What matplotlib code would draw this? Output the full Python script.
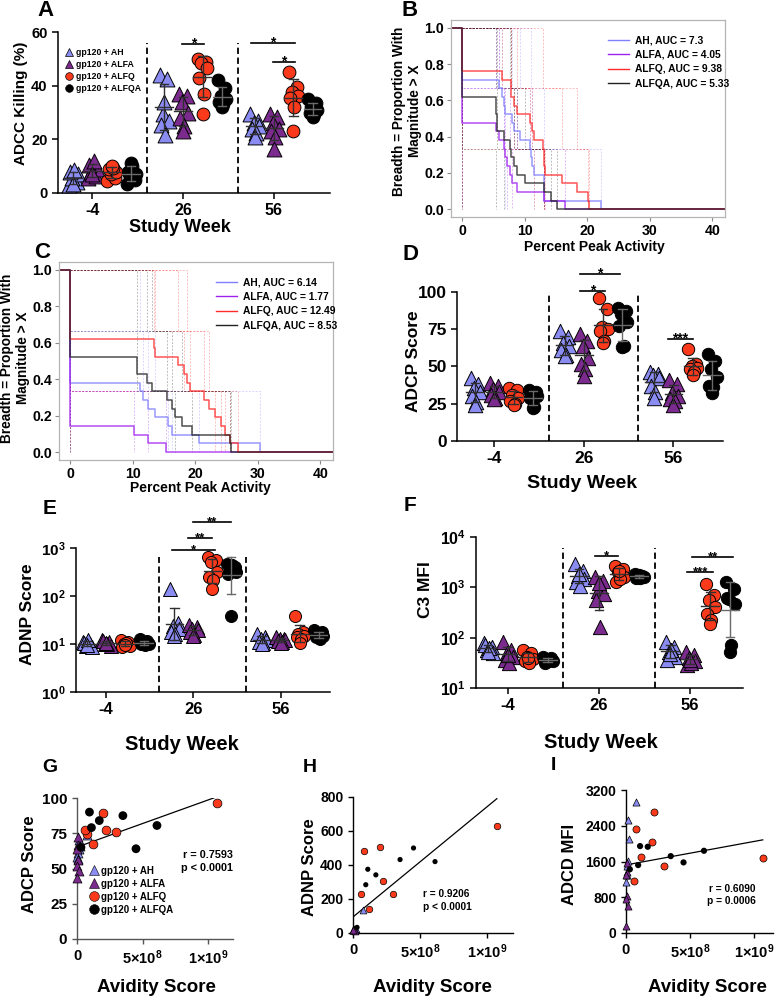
import numpy as np
import matplotlib
matplotlib.use('Agg')
import matplotlib.pyplot as plt
from matplotlib.lines import Line2D
from matplotlib.ticker import NullLocator

plt.rcParams['font.family'] = ['Liberation Sans', 'DejaVu Sans']
plt.rcParams['font.weight'] = 'bold'
plt.rcParams['mathtext.fontset'] = 'custom'
plt.rcParams['mathtext.rm'] = 'Liberation Sans:bold'
plt.rcParams['mathtext.bf'] = 'Liberation Sans:bold'
plt.rcParams['mathtext.it'] = 'Liberation Sans:bold'
plt.rcParams['axes.linewidth'] = 1.1

W, H = 782, 999

GROUPS = ['gp120 + AH', 'gp120 + ALFA', 'gp120 + ALFQ', 'gp120 + ALFQA']
SHORT = ['AH', 'ALFA', 'ALFQ', 'ALFQA']
WEEKS = ['-4', '26', '56']
COLORS = ['#8a8cf2', '#7b2b8e', '#fb3a1c', '#000000']
MARKERS = ['^', '^', 'o', 'o']
LINE_COLORS = ['#7f7fff', '#a020f0', '#ff2a2a', '#222222']

# --- A: ADCC killing (%), per group -> weeks -4, 26, 56
adcc_ah = [[3, 4, 5.5, 7, 8, 8.5, 3.5], [44, 42.5, 29.5, 27, 25.5, 21.5, 34], [29.5, 27, 26, 25, 24, 22.5, 21]]
adcc_alfa = [[5.5, 6.5, 8, 9, 10.5, 12, 7], [37, 36, 34, 30, 28, 25, 23], [29.5, 28.5, 26, 24, 23, 21, 16.5]]
adcc_alfq = [[4.5, 5.5, 7, 8, 9, 9.5, 10], [50, 49, 48.5, 46.5, 43, 37, 29.5], [45, 39.5, 37.5, 36, 35.5, 32, 23]]
adcc_alfqa = [[3.5, 5, 6, 7, 8, 10, 11], [42, 39, 36, 35, 34, 33, 32], [35, 33.5, 32, 31, 30, 29.5, 28.5]]
adcc_sig = [(5.65, 6.8, 55.5, '*'), (9.2, 11.5, 56, '*'), (10.35, 11.5, 49, '*')]

# --- D: ADCP score
adcp_ah = [[42, 38.5, 35.5, 33, 30, 26, 24], [74, 70, 66, 64, 61, 58, 57], [46, 45, 44, 42, 37, 33, 29]]
adcp_alfa = [[39, 37, 35, 33, 31, 29, 28], [72, 67, 63.5, 56, 52, 48, 43.5], [41, 38, 32, 30, 28, 27, 24]]
adcp_alfq = [[35.5, 34, 31, 29, 27, 25, 24], [96, 88.5, 76.5, 75, 74, 67, 66], [62, 52, 50, 49, 48, 46, 44]]
adcp_alfqa = [[34, 33, 31, 30, 29, 23, 22], [89, 87, 85, 80, 77, 64, 63], [58.5, 54, 48, 43, 37, 36, 32]]
adcp_sig = [(5.44, 6.74, 101, '*'), (5.44, 7.51, 112, '*'), (10.0, 11.3, 68.5, '***')]

# --- E: ADNP score
adnp_ah = [[11, 10, 9, 8.5, 10.5, 12, 9.5], [140, 27, 24, 21, 18, 16, 15], [16, 14, 13, 12, 11, 10.5, 10]]
adnp_alfa = [[12, 11, 10, 9, 11.5, 10, 10.5], [25, 23, 21, 20, 18, 15.5, 14.5], [14, 13, 12.5, 12, 11.5, 11, 10.5]]
adnp_alfq = [[12, 11, 10, 9, 8.5, 10.5, 9.5], [650, 550, 510, 318, 243, 213, 143], [38, 18, 16.5, 15, 14, 12.5, 10.5]]
adnp_alfqa = [[12.5, 11.5, 11, 10, 10, 9.5, 10.5], [473, 400, 372, 318, 293, 436, 38], [19.5, 18, 17, 15, 14, 13, 13.5]]
adnp_sig = [(4.47, 6.74, 922, '*'), (5.3, 6.6, 1620, '**'), (5.57, 7.6, 3460, '**')]

# --- F: C3 MFI
c3_ah = [[77, 66, 57, 49, 71, 61, 53], [2900, 2140, 1700, 1470, 1260, 1085, 1850], [83, 66, 53, 42, 36, 57, 48]]
c3_alfa = [[83, 57, 49, 42, 36, 31, 45], [1580, 1350, 865, 740, 550, 164, 1200], [53, 45, 39, 34, 29, 31, 36]]
c3_alfq = [[57, 49, 42, 37, 34, 31, 39], [2700, 2300, 1990, 1580, 1260, 1470, 2150], [1170, 690, 550, 410, 300, 229, 185]]
c3_alfqa = [[42, 39, 36, 34, 31, 37, 35], [1800, 1700, 1650, 1600, 1550, 1500, 1750], [1260, 940, 590, 470, 610, 71, 53]]
c3_sig = [(5.35, 6.55, 4230, '*'), (10.0, 11.3, 2040, '***'), (10.25, 12.3, 4000, '**')]

# --- B / C: percent peak activity per animal (3 antigens each)
b_ah = [[11.0, 13.0, 22.2], [9.3, 11.2, 13.0], [7.9, 10.9, 13.0], [6.3, 8.2, 11.4], [5.8, 6.6, 6.9], [0, 0, 0], [0, 0, 0]]
b_alfa = [[0, 8.7, 16.5], [0, 7.7, 13.0], [5.4, 6.9, 8.0], [5.8, 6.6, 7.1], [0, 0, 0], [0, 0, 0], [0, 0, 0]]
b_alfq = [[12.9, 18.4, 20.3], [8.7, 16.0, 20.1], [7.8, 11.2, 13.2], [6.3, 10.9, 13.1], [7.8, 8.2, 13.0], [0, 0, 11.5], [0, 0, 0]]
b_alfqa = [[7.83, 10.1, 15.2], [7.67, 8.74, 14.2], [5.5, 8.2, 13.0], [5.36, 5.5, 6.6], [0, 0, 5.36], [0, 0, 0], [0, 0, 0]]
b_auc = ['7.3', '4.05', '9.38', '5.33']

c_ah = [[0, 0, 30.3], [0, 13.6, 20.5], [11.2, 12.5, 16.2], [0, 11.6, 15.6], [0, 0, 0], [0, 0, 0], [0, 0, 0]]
c_alfa = [[0, 0, 15.3], [0, 0, 12.5], [0, 0, 10.2], [0, 0, 0], [0, 0, 0], [0, 0, 0], [0, 0, 0]]
c_alfq = [[18.6, 21.3, 26.8], [17.3, 19.2, 25.6], [13.4, 22.2, 24.7], [13.6, 18.2, 24.1], [0, 0, 23.2], [0, 0, 0], [0, 0, 0]]
c_alfqa = [[10.6, 16.2, 25.7], [12.2, 15.4, 25.6], [13.0, 17.8, 19.5], [0, 10.7, 16.8], [0, 0, 0], [0, 0, 0], [0, 0, 0]]
c_auc = ['6.14', '1.77', '12.49', '8.53']

# --- G / H / I: avidity vs week-26 function
avid_ah = [7.8e7, 1.8e7, 2.6e7, 1.3e7, 8e6, 2e6, 1e7]
avid_alfa = [5e6, 1e7, 3e6, 8e6, 2e6, 1.2e7, 0]
avid_alfq = [1.07e9, 2.2e8, 2.0e8, 3.0e8, 1.2e8, 8e7, 6e7]
avid_alfqa = [6.1e8, 4.5e8, 3.5e8, 1.7e8, 1.1e8, 9.5e7, 3e7]

g_ah = [74, 70, 66, 64, 61, 58, 57]
g_alfa = [72, 67, 63.5, 56, 52, 48, 43.5]
g_alfq = [96.8, 77, 89.4, 75.7, 67.3, 74.5, 77.6]
g_alfqa = [80.5, 64, 87.5, 84, 79, 90, 65]

h_ah = [135, 25, 22, 19, 17, 15, 16]
h_alfa = [25, 21, 18, 16, 15, 14, 20]
h_alfq = [628, 308, 508, 227, 140, 480, 227]
h_alfqa = [420, 500, 432, 342, 375, 284, 33]

i_ah = [2940, 2530, 2100, 1610, 1300, 1140, 1500]
i_alfa = [1560, 1370, 1300, 820, 770, 610, 165]
i_alfq = [1674, 2716, 2030, 1500, 1700, 2320, 1173]
i_alfqa = [1840, 1580, 1720, 1930, 1945, 1520, 1425]

JIT = np.array([-0.22, 0.18, -0.06, 0.24, -0.16, 0.06, 0.0])

fig = plt.figure(figsize=(W / 100, H / 100), dpi=100)


def add_ax(l, t, r, b):
    return fig.add_axes([l / W, 1 - b / H, (r - l) / W, (b - t) / H])


def ftext(x, y, s, size, rot=0, **kw):
    fig.text(x / W, 1 - y / H, s, fontsize=size, rotation=rot, ha='center',
             va='center', fontweight='bold', **kw)


def clean(ax, lw=1.1):
    for s in ('top', 'right'):
        ax.spines[s].set_visible(False)
    for s in ('left', 'bottom'):
        ax.spines[s].set_linewidth(lw)


def dot_panel(ax, series, gap, log=False, ms=85, dash_top=1.0):
    for k, data in enumerate(series):
        size = ms * 1.35 if MARKERS[k] == '^' else ms
        for g, vals in enumerate(data):
            v = np.asarray(vals, float)
            x0 = g * gap + k
            ax.scatter(x0 + JIT[:len(v)], v, s=size, marker=MARKERS[k], c=COLORS[k],
                       edgecolors='black', linewidths=0.7, zorder=3, clip_on=False)
            if log:
                lv = np.log10(v)
                m, sd = lv.mean(), lv.std(ddof=1)
                mid, lo, hi = 10 ** m, 10 ** (m - sd), 10 ** (m + sd)
            else:
                mid, sd = v.mean(), v.std(ddof=1)
                lo, hi = mid - sd, mid + sd
            ec = '#6a6a6a' if k == 3 else '#303030'
            ax.plot([x0 - 0.45, x0 + 0.45], [mid, mid], color=ec, lw=1.0, zorder=4)
            ax.plot([x0, x0], [lo, hi], color=ec, lw=1.0, zorder=4)
            for yy in (lo, hi):
                ax.plot([x0 - 0.22, x0 + 0.22], [yy, yy], color=ec, lw=1.0, zorder=4)
    for g in range(2):
        ax.axvline(g * gap + (3 + gap) / 2, ymin=0, ymax=dash_top, color='black',
                   ls=(0, (3.5, 2)), lw=1.3, zorder=1)
    ax.set_xticks([g * gap + 1 for g in range(3)])
    ax.set_xticklabels(WEEKS)
    if log:
        ax.set_yscale('log')
        ax.yaxis.set_minor_locator(NullLocator())
    clean(ax)
    ax.tick_params(direction='out', length=4, width=1.1)


def sig(ax, brackets, fs=10):
    for x1, x2, y, txt in brackets:
        ax.plot([x1, x2], [y, y], color='black', lw=1.2, clip_on=False)
        ax.annotate(txt, ((x1 + x2) / 2, y), xytext=(0, -2.5), textcoords='offset points',
                    ha='center', va='baseline', fontsize=fs, fontweight='bold',
                    annotation_clip=False)


def breadth_panel(ax, groups, aucs):
    for k, animals in enumerate(groups):
        c = LINE_COLORS[k]
        for a in sorted(set(tuple(sorted(a)) for a in animals)):
            av = np.asarray(a, float)
            ys = [1.0] + [np.mean(av > v) for v in av]
            ax.plot(np.r_[0, av], ys, drawstyle='steps-post', color=c, lw=0.7,
                    ls=(0, (2, 1.5)), alpha=0.3, zorder=1)
        allv = np.sort(np.concatenate([np.asarray(a, float) for a in animals]))
        ys = np.r_[1.0, [np.mean(allv > v) for v in allv], 0.0]
        ax.plot(np.r_[-1.8, allv, 42.5], ys, drawstyle='steps-post', color=c, lw=1.1,
                alpha=0.8, zorder=2)
    handles = [Line2D([], [], color=LINE_COLORS[k], lw=1.0) for k in range(4)]
    labels = [f'{SHORT[k]}, AUC = {aucs[k]}' for k in range(4)]
    ax.legend(handles, labels, loc='upper left', bbox_to_anchor=(0.54, 0.97), frameon=False,
              fontsize=7.4, handlelength=2.0, handletextpad=0.6, labelspacing=0.45)
    ax.set_xlim(-1.8, 42)
    ax.set_ylim(-0.043, 1.043)
    ax.set_xticks([0, 10, 20, 30, 40])
    ax.set_yticks([0, 0.2, 0.4, 0.6, 0.8, 1.0])
    ax.set_yticklabels(['0.0', '0.2', '0.4', '0.6', '0.8', '1.0'])
    for s in ax.spines.values():
        s.set_color('#b5b5b5')
        s.set_linewidth(0.9)
    ax.tick_params(colors='#8a8a8a', labelcolor='black', length=3, width=0.8, labelsize=10.2,
                   pad=2)


def corr_panel(ax, ys, sizes, ylim, yticks, axis_color='black'):
    avid = [avid_ah, avid_alfa, avid_alfq, avid_alfqa]
    allx, ally = [], []
    for k in range(4):
        x = np.asarray(avid[k], float)
        y = np.asarray(ys[k], float)
        ax.scatter(x, y, s=sizes[k], marker=MARKERS[k], c=COLORS[k],
                   edgecolors='black' if k < 3 else 'none', linewidths=0.5,
                   zorder=3, clip_on=False)
        allx.append(x)
        ally.append(y)
    allx, ally = np.concatenate(allx), np.concatenate(ally)
    slope, icpt = np.polyfit(allx, ally, 1)
    xx = np.array([0, allx.max()])
    ax.plot(xx, icpt + slope * xx, color='black', lw=0.9, zorder=2)
    ax.set_xlim(0, 1.19e9)
    ax.set_ylim(*ylim)
    ax.set_yticks(yticks)
    ax.set_xticks([0, 5e8, 1e9])
    ax.set_xticklabels(['0', r'5×10$^{8}$', r'1×10$^{9}$'])
    clean(ax, 1.0)
    for s in ('left', 'bottom'):
        ax.spines[s].set_color(axis_color)
    ax.tick_params(direction='out', length=3.5, width=1.0, color=axis_color, labelsize=10.5)


# ---------- A ----------
axA = add_ax(58, 32, 330, 193)
dot_panel(axA, [adcc_ah, adcc_alfa, adcc_alfq, adcc_alfqa], 4.7, ms=85, dash_top=0.93)
axA.set_xlim(-0.78, 13.3)
axA.set_ylim(0, 60)
axA.set_yticks([0, 20, 40, 60])
axA.tick_params(axis='y', labelsize=10.5)
axA.tick_params(axis='x', labelsize=11.5)
sig(axA, adcc_sig, fs=10)
leg_h = [Line2D([], [], ls='none', marker=MARKERS[k], markersize=5.5, markerfacecolor=COLORS[k],
                markeredgecolor='black', markeredgewidth=0.5) for k in range(4)]
axA.legend(leg_h, GROUPS, loc='upper left', bbox_to_anchor=(0.0, 0.94), frameon=False,
           fontsize=6.3, handletextpad=0.2, labelspacing=0.35, borderpad=0.2, handlelength=1.2)
ftext(21, 103, 'ADCC Killing (%)', 11, rot=90)
ftext(180, 228, 'Study Week', 13)

# ---------- B ----------
axB = add_ax(451, 20, 725, 217)
breadth_panel(axB, [b_ah, b_alfa, b_alfq, b_alfqa], b_auc)
ftext(407, 111, 'Breadth = Proportion With\nMagnitude > X', 9.8, rot=90, linespacing=1.15)
ftext(594, 247, 'Percent Peak Activity', 10)

# ---------- C ----------
axC = add_ax(59, 262, 333, 460)
breadth_panel(axC, [c_ah, c_alfa, c_alfq, c_alfqa], c_auc)
ftext(15, 358, 'Breadth = Proportion With\nMagnitude > X', 9.8, rot=90, linespacing=1.15)
ftext(200, 488, 'Percent Peak Activity', 10)

# ---------- D ----------
axD = add_ax(457, 292, 723, 441)
dot_panel(axD, [adcp_ah, adcp_alfa, adcp_alfq, adcp_alfqa], 4.64, ms=80, dash_top=1.0)
axD.set_xlim(-0.93, 12.85)
axD.set_ylim(0, 100)
axD.set_yticks([0, 25, 50, 75, 100])
axD.tick_params(axis='y', labelsize=12.5)
axD.tick_params(axis='x', labelsize=12.5)
sig(axD, adcp_sig, fs=10)
ftext(414, 361, 'ADCP Score', 12.5, rot=90)
ftext(582, 483, 'Study Week', 14)

# ---------- E ----------
axE = add_ax(76, 548, 330, 692)
dot_panel(axE, [adnp_ah, adnp_alfa, adnp_alfq, adnp_alfqa], 4.6, log=True, ms=75, dash_top=0.94)
axE.set_xlim(-0.58, 12.8)
axE.set_ylim(1, 1000)
axE.set_yticks([1, 10, 100, 1000])
axE.set_yticklabels([r'10$^{0}$', r'10$^{1}$', r'10$^{2}$', r'10$^{3}$'])
axE.tick_params(axis='y', labelsize=11)
axE.tick_params(axis='x', labelsize=12)
sig(axE, adnp_sig, fs=9.5)
ftext(28, 614, 'ADNP Score', 12.5, rot=90)
ftext(182, 745, 'Study Week', 14.5)

# ---------- F ----------
axF = add_ax(476, 537, 743, 688)
dot_panel(axF, [c3_ah, c3_alfa, c3_alfq, c3_alfqa], 4.575, log=True, ms=78, dash_top=0.93)
axF.set_xlim(-0.6, 12.8)
axF.set_ylim(10, 1e4)
axF.set_yticks([10, 100, 1000, 10000])
axF.set_yticklabels([r'10$^{1}$', r'10$^{2}$', r'10$^{3}$', r'10$^{4}$'])
axF.tick_params(axis='y', labelsize=11.5)
axF.tick_params(axis='x', labelsize=12)
sig(axF, c3_sig, fs=9.5)
ftext(425, 590, 'C3 MFI', 12.5, rot=90)
ftext(601, 743, 'Study Week', 14.5)

# ---------- G ----------
axG = add_ax(77, 798, 233, 939)
corr_panel(axG, [g_ah, g_alfa, g_alfq, g_alfqa], [42, 42, 40, 40], (0, 100),
           [0, 25, 50, 75, 100], axis_color='#555555')
axG.tick_params(axis='y', labelsize=11)
g_leg = [Line2D([], [], ls='none', marker=MARKERS[k], markersize=6.5 if k < 2 else 7,
                markerfacecolor=COLORS[k], markeredgecolor='black', markeredgewidth=0.4)
         for k in range(4)]
axG.legend(g_leg, GROUPS, loc='upper left', bbox_to_anchor=(0.04, 0.56), frameon=False,
           fontsize=7, handletextpad=0.2, labelspacing=0.3, borderpad=0.1, handlelength=1.0)
axG.text(1.0, 0.55, 'r = 0.7593\np < 0.0001', transform=axG.transAxes, ha='right',
         va='center', fontsize=7.8, fontweight='bold', linespacing=1.3)
ftext(29, 864, 'ADCP Score', 12, rot=90)
ftext(156, 988, 'Avidity Score', 13.5)

# ---------- H ----------
axH = add_ax(353, 797, 513, 933)
corr_panel(axH, [h_ah, h_alfa, h_alfq, h_alfqa], [24, 24, 22, 14], (0, 800),
           [0, 200, 400, 600, 800])
axH.tick_params(axis='y', labelsize=10)
axH.text(0.44, 0.24, 'r = 0.9206\np < 0.0001', transform=axH.transAxes, ha='left',
         va='center', fontsize=7.3, fontweight='bold', linespacing=1.3)
ftext(310, 867, 'ADNP Score', 12, rot=90)
ftext(432, 987, 'Avidity Score', 13.5)

# ---------- I ----------
axI = add_ax(626, 790, 773, 933)
corr_panel(axI, [i_ah, i_alfa, i_alfq, i_alfqa], [26, 26, 26, 20], (0, 3200),
           [0, 800, 1600, 2400, 3200])
axI.set_xlim(0, 1.15e9)
axI.tick_params(axis='y', labelsize=10)
axI.text(0.72, 0.265, 'r = 0.6090\np = 0.0006', transform=axI.transAxes, ha='center',
         va='center', fontsize=7.3, fontweight='bold', linespacing=1.3)
ftext(569, 864, 'ADCD MFI', 12, rot=90)
ftext(707, 987, 'Avidity Score', 13.5)

# ---------- panel letters ----------
for letter, x, y, size in [('A', 45, 11, 16), ('B', 410, 11, 16), ('C', 42, 253, 16),
                           ('D', 410, 255, 16), ('E', 50, 509, 15), ('F', 410, 505, 15),
                           ('G', 50, 767, 14), ('H', 310, 767, 14), ('I', 553, 766, 14)]:
    ftext(x, y, letter, size)

fig.savefig('out.png', dpi=100)
